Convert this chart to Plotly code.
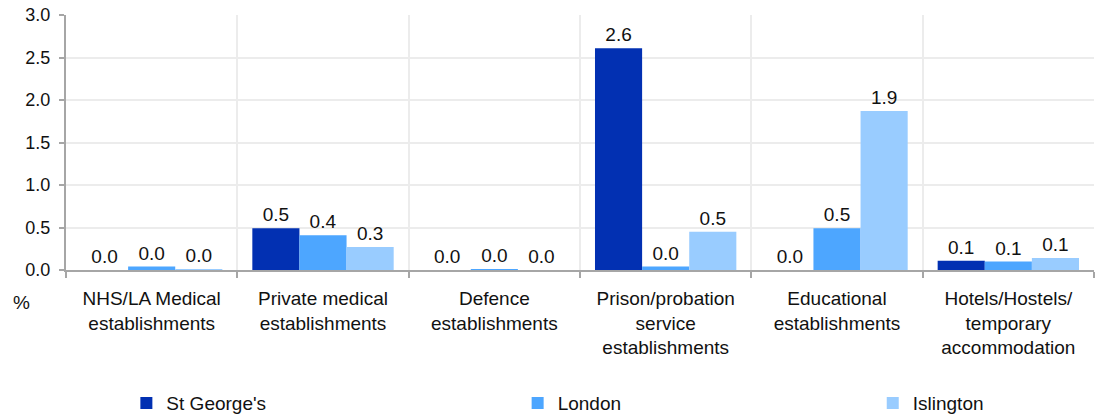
import plotly.graph_objects as go

categories = ["NHS/LA Medical<br>establishments",
              "Private medical<br>establishments",
              "Defence<br>establishments",
              "Prison/probation<br>service<br>establishments",
              "Educational<br>establishments",
              "Hotels/Hostels/<br>temporary<br>accommodation"]

st_georges = [0.0, 0.49, 0.0, 2.61, 0.0, 0.11]
london = [0.04, 0.41, 0.01, 0.04, 0.49, 0.10]
islington = [0.01, 0.27, 0.0, 0.45, 1.87, 0.14]

series = [("St George's", st_georges, '#0230b2', 'legend'),
          ("London", london, '#4da6ff', 'legend2'),
          ("Islington", islington, '#99ccff', 'legend3')]

fig = go.Figure()
for name, vals, col, leg in series:
    fig.add_trace(go.Bar(x=categories, y=vals, name=name, legend=leg,
                         marker=dict(color=col, line=dict(width=0)),
                         texttemplate='%{y:.1f}', textposition='outside',
                         cliponaxis=False,
                         textfont=dict(size=19, color='#111111')))

# page body has an 8px margin, so the figure is 8px smaller and margins shifted
legend_style = dict(orientation='h', xref='container', yref='container',
                    y=0.027, xanchor='left', yanchor='middle', visible=True,
                    font=dict(size=19), bgcolor='rgba(0,0,0,0)')

fig.update_layout(
    width=1096, height=406,
    showlegend=True,
    barmode='group', bargap=0.175, bargroupgap=0,
    plot_bgcolor='white', paper_bgcolor='white',
    font=dict(family='Liberation Sans, Arial, sans-serif', size=19, color='#111111'),
    margin=dict(l=58, r=10, t=7, b=144, autoexpand=False),
    legend=dict(x=0.108, **legend_style),
    legend2=dict(x=0.465, **legend_style),
    legend3=dict(x=0.789, **legend_style),
    annotations=[dict(text='%', x=-0.043, y=-0.129, xref='paper', yref='paper',
                      showarrow=False, xanchor='center', yanchor='middle',
                      font=dict(size=19))],
)
fig.update_xaxes(showline=True, linecolor='#a6a6a6', linewidth=2, automargin=False,
                 tickson='boundaries', ticks='outside', ticklen=6, tickcolor='#a6a6a6',
                 tickwidth=2, ticklabelstandoff=10,
                 showgrid=True, gridcolor='#ececec', gridwidth=2)
fig.update_yaxes(range=[0, 3.0], dtick=0.5, tickformat='.1f', automargin=False,
                 ticklabeloverflow='allow', tickfont=dict(size=18),
                 showline=True, linecolor='#a6a6a6', linewidth=2,
                 ticks='outside', ticklen=5, tickcolor='#a6a6a6', tickwidth=2,
                 ticklabelstandoff=5,
                 showgrid=True, gridcolor='#ececec', gridwidth=2, zeroline=False)

fig.write_html("out.html")
